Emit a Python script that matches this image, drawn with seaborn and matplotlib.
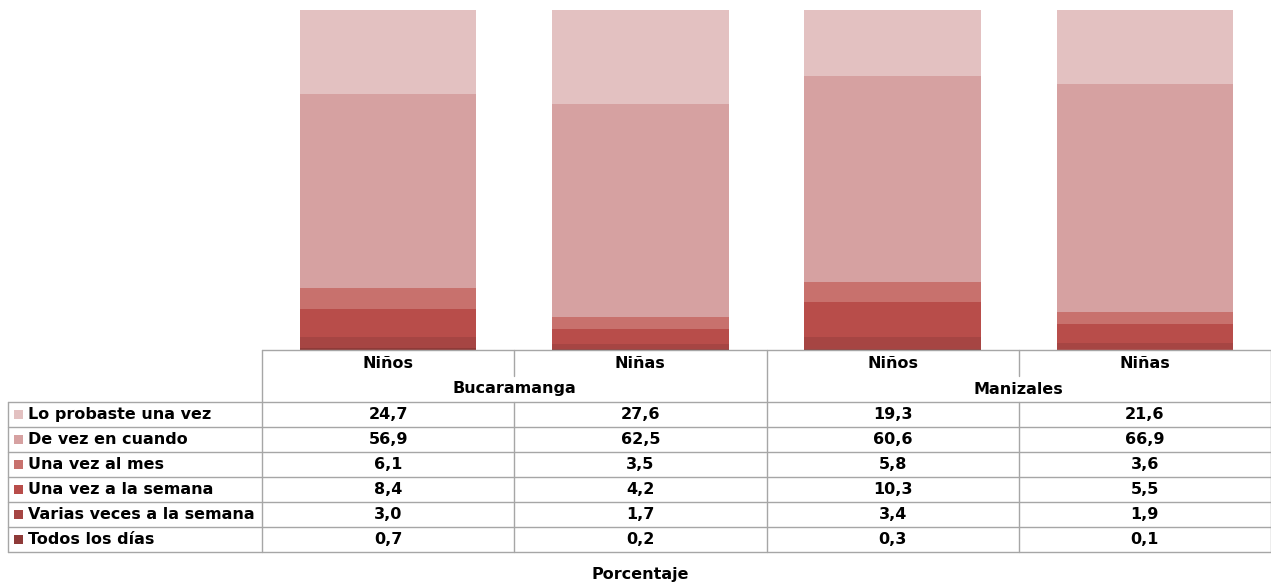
import numpy as np
import pandas as pd
import matplotlib.pyplot as plt
import seaborn as sns

# ==========================================
# Data
# ==========================================

cities = ["Bucaramanga", "Manizales"]
groups = ["Niños", "Niñas", "Niños", "Niñas"]

categories = [
    "Lo probaste una vez",
    "De vez en cuando",
    "Una vez al mes",
    "Una vez a la semana",
    "Varias veces a la semana",
    "Todos los días",
]

lo_probaste = [24.7, 27.6, 19.3, 21.6]
de_vez = [56.9, 62.5, 60.6, 66.9]
una_vez_mes = [6.1, 3.5, 5.8, 3.6]
una_vez_semana = [8.4, 4.2, 10.3, 5.5]
varias_veces = [3.0, 1.7, 3.4, 1.9]
todos_dias = [0.7, 0.2, 0.3, 0.1]

colors = ["#E3C1C1", "#D6A1A1", "#C8716D", "#B84D4A", "#A64543", "#8E3A38"]

# ==========================================
# Build table
# ==========================================

values = pd.DataFrame(
    [lo_probaste, de_vez, una_vez_mes, una_vez_semana, varias_veces, todos_dias],
    index=categories,
)
bar_ids = [f"{cities[i // 2]} {g}" for i, g in enumerate(groups)]
values.columns = bar_ids

# cumulative from bottom (Todos los días) upward
cum = values.iloc[::-1].cumsum().iloc[::-1]

# ==========================================
# Figure
# ==========================================

sns.set_theme(style="white")
plt.rcParams["font.family"] = ["DejaVu Sans"]
plt.rcParams["text.color"] = "black"

W, H = 1271, 584
fig = plt.figure(figsize=(W / 100, H / 100), dpi=100)

left, right, bottom_px, top_px = 262, 1271, 350, 9
ax = fig.add_axes([left / W, (H - bottom_px) / H, (right - left) / W, (bottom_px - top_px) / H])

for cat, col in zip(categories, colors):
    sns.barplot(
        x=bar_ids,
        y=cum.loc[cat].values,
        color=col,
        saturation=1,
        width=0.7,
        linewidth=0,
        edgecolor="none",
        ax=ax,
    )

ax.set_ylim(0, 100)
ax.set_xlim(-0.5, 3.5)
ax.axis("off")

# ==========================================
# Data table under the bars (pixel overlay)
# ==========================================

tb = fig.add_axes([0, 0, 1, 1])
tb.set_xlim(0, W)
tb.set_ylim(H, 0)
tb.axis("off")

line_kw = dict(color="#A6A6A6", lw=1)
col_w = (right - left) / len(groups)
edges = [left + i * col_w for i in range(len(groups) + 1)]
header_top, header_mid, header_bot = 350, 376, 402
row_h = 25
table_bot = header_bot + row_h * len(categories)
label_left = 8

# horizontal lines
tb.plot([left, right], [header_top, header_top], **line_kw)
for r in range(len(categories) + 1):
    y = header_bot + r * row_h
    tb.plot([label_left, right], [y, y], **line_kw)

# vertical lines
tb.plot([label_left, label_left], [header_bot, table_bot], **line_kw)
for i, x in enumerate(edges):
    if i % 2 == 1 and i < len(edges) - 1:
        tb.plot([x, x], [header_top, header_mid], **line_kw)
        tb.plot([x, x], [header_bot, table_bot], **line_kw)
    else:
        tb.plot([x, x], [header_top, table_bot], **line_kw)

fs = 11.5
for i, g in enumerate(groups):
    cx = (edges[i] + edges[i + 1]) / 2
    tb.text(cx, 364, g, ha="center", va="center", fontsize=fs, fontweight="bold")
for j, city in enumerate(cities):
    cx = edges[2 * j + 1]
    tb.text(cx, 389, city, ha="center", va="center", fontsize=fs, fontweight="bold")

for r, cat in enumerate(categories):
    cy = header_bot + r * row_h + row_h / 2
    tb.add_patch(plt.Rectangle((14, cy - 4.5), 9, 9, color=colors[r], lw=0))
    tb.text(28, cy, cat, ha="left", va="center", fontsize=fs, fontweight="bold")
    for i, bid in enumerate(bar_ids):
        cx = (edges[i] + edges[i + 1]) / 2
        txt = f"{values.loc[cat, bid]:.1f}".replace(".", ",")
        tb.text(cx, cy, txt, ha="center", va="center", fontsize=fs, fontweight="bold")

tb.text(640, 574, "Porcentaje", ha="center", va="center", fontsize=fs, fontweight="bold")

fig.savefig("out.png", dpi=100)
